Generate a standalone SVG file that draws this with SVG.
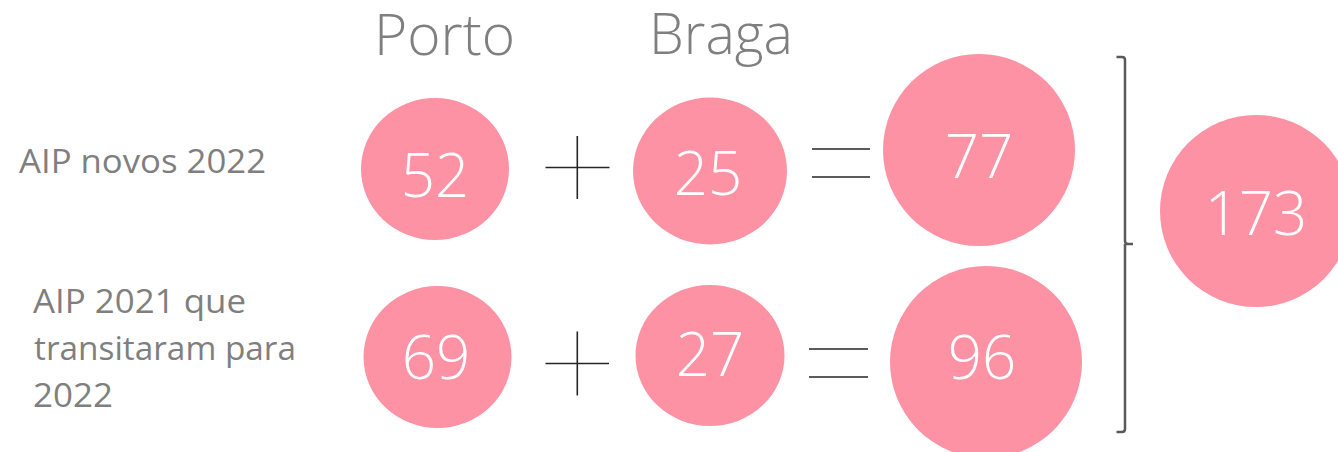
<svg xmlns="http://www.w3.org/2000/svg" width="1338" height="452" viewBox="0 0 1338 452">
<style>
.bub{fill:#FC92A4}
.num{font-family:"Open Sans","Liberation Sans",sans-serif;font-weight:300;font-size:60px;fill:#FFFFFF;text-anchor:middle}
.hdr{font-family:"Open Sans","Liberation Sans",sans-serif;font-weight:300;font-size:57px;fill:#7F7F7F}
.lbl{font-family:"Open Sans","Liberation Sans",sans-serif;font-weight:400;font-size:33px;fill:#7F7F7F}
.op{stroke:#262626;stroke-width:1.6;fill:none}
.br{stroke:#595959;stroke-width:2.5;fill:none;stroke-linejoin:round}
</style>
<rect width="1338" height="452" fill="#FFFFFF"/>
<g id="headers">
<text class="hdr" x="374" y="55" textLength="141" lengthAdjust="spacingAndGlyphs">Porto</text>
<text class="hdr" x="649" y="54" textLength="144" lengthAdjust="spacingAndGlyphs">Braga</text>
</g>
<g id="labels">
<text class="lbl" x="19" y="173" textLength="247" lengthAdjust="spacingAndGlyphs">AIP novos 2022</text>
<text class="lbl" x="33" y="313" textLength="213" lengthAdjust="spacingAndGlyphs">AIP 2021 que</text>
<text class="lbl" x="34" y="360" textLength="262" lengthAdjust="spacingAndGlyphs">transitaram para</text>
<text class="lbl" x="33" y="407" textLength="80" lengthAdjust="spacingAndGlyphs">2022</text>
</g>
<g id="n52"><ellipse class="bub" cx="435" cy="169" rx="74" ry="71"/><text class="num" x="435" y="197">52</text></g>
<g id="n25"><ellipse class="bub" cx="710" cy="171" rx="77" ry="73.5"/><text class="num" x="708" y="195">25</text></g>
<g id="n77"><circle class="bub" cx="979" cy="150" r="96"/><text class="num" x="979" y="178">77</text></g>
<g id="n69"><ellipse class="bub" cx="437.5" cy="357" rx="74" ry="71"/><text class="num" x="436" y="379">69</text></g>
<g id="n27"><ellipse class="bub" cx="710" cy="355.5" rx="74.5" ry="70.5"/><text class="num" x="710" y="376">27</text></g>
<g id="n96"><circle class="bub" cx="986" cy="362" r="96"/><text class="num" x="982" y="379">96</text></g>
<g id="n173"><circle class="bub" cx="1256" cy="211" r="96"/><text class="num" x="1256" y="235">173</text></g>
<g id="connectors">
<path class="op" d="M545.5 167.5H609.5M577.3 136V199"/>
<path class="op" d="M812 149H870M812 177H870"/>
<path class="op" d="M545.5 363.5H609M577.3 331.5V395.5"/>
<path class="op" d="M809 349H868M809 377H868"/>
<path class="br" d="M1116.5 57H1122Q1125 57 1125 60V241Q1125 244 1128 244H1133M1125 244V429Q1125 432 1122 432H1116.5"/>
</g>
</svg>
